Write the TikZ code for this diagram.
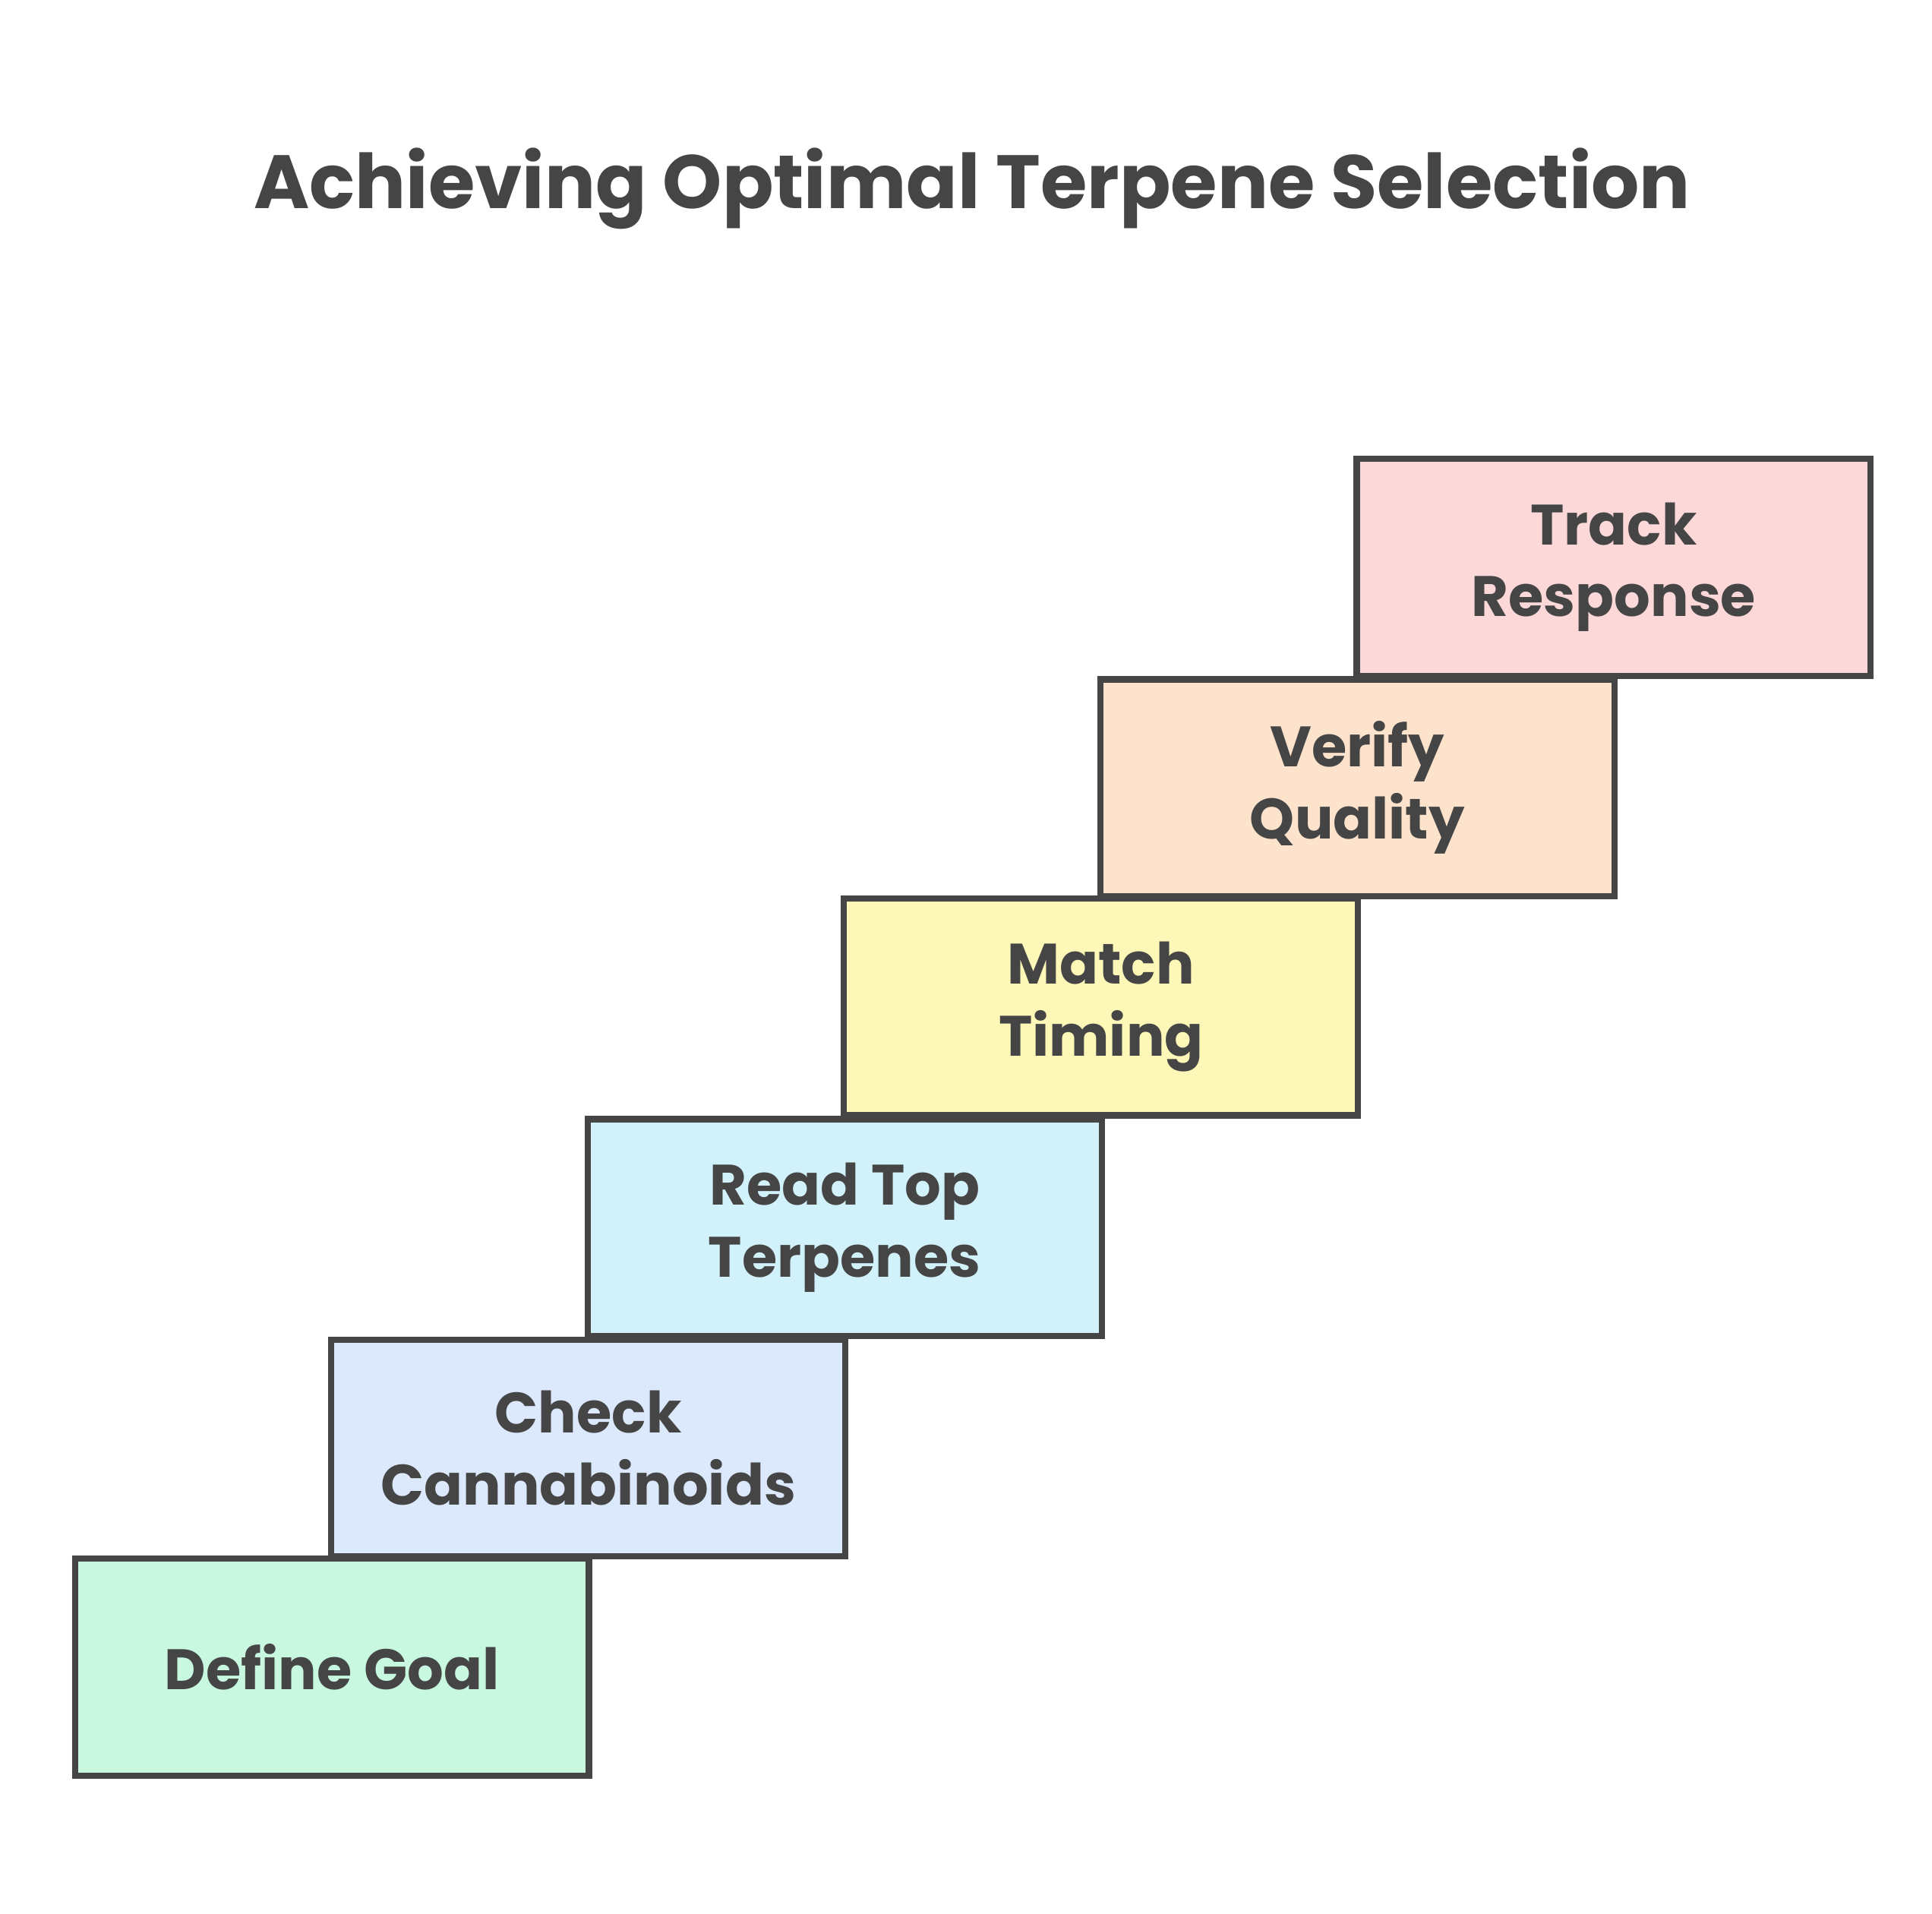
\documentclass[tikz,border=0pt]{standalone}
\usepackage{fontspec}
\setmainfont{Poppins}
\begin{document}
\begin{tikzpicture}[x=1pt,y=-1pt,
  stepbox/.style={draw=ink,line width=5pt,minimum width=415pt,minimum height=175pt,anchor=north west,text=ink,align=center,font=\fontsize{46}{58}\selectfont\bfseries,inner sep=0pt}]
\definecolor{ink}{HTML}{454545}
\definecolor{cA}{HTML}{C8F8E0}
\definecolor{cB}{HTML}{DCE8FC}
\definecolor{cC}{HTML}{D2F2FB}
\definecolor{cD}{HTML}{FDF7B8}
\definecolor{cE}{HTML}{FDE2CC}
\definecolor{cF}{HTML}{FDD8D8}
\useasboundingbox[fill=white] (0,0) rectangle (1560,1545);
\node[text=ink,font=\fontsize{61}{70}\selectfont\bfseries] (title) at (785,152) {Achieving Optimal Terpene Selection};
\node[stepbox,fill=cA] (s1) at (58,1256) {Define Goal};
\node[stepbox,fill=cB] (s2) at (265,1079) {Check\\Cannabinoids};
\node[stepbox,fill=cC] (s3) at (472,901) {Read Top\\Terpenes};
\node[stepbox,fill=cD] (s4) at (679,723) {Match\\Timing};
\node[stepbox,fill=cE] (s5) at (886,546) {Verify\\Quality};
\node[stepbox,fill=cF] (s6) at (1093,368) {Track\\Response};
\end{tikzpicture}
\end{document}
